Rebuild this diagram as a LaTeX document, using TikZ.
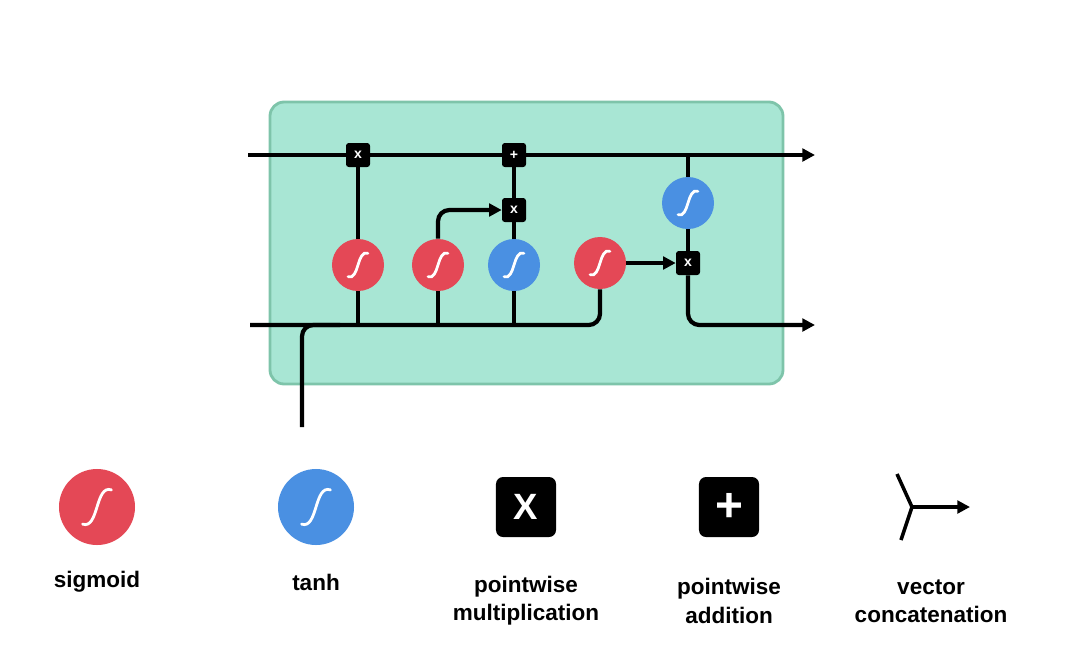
\documentclass[tikz,border=0pt]{standalone}
\usepackage{fontspec}
\setmainfont{Liberation Sans}
\usetikzlibrary{arrows.meta, positioning, calc}
\definecolor{sigred}{RGB}{228,72,86}
\definecolor{tanhblue}{RGB}{74,144,226}
\definecolor{cellfill}{RGB}{168,230,212}
\definecolor{celldraw}{RGB}{126,196,170}

\begin{document}
\begin{tikzpicture}[
		x=0.025cm, y=-0.025cm,
		flow/.style={line width=3pt, black},
		arr/.style={flow, -{Triangle[length=9pt, width=9pt]}},
		scurve/.pic={
			\draw[white, line width=2pt, line cap=round]
				(-0.38,0.45) .. controls (0.05,0.6) and (-0.05,-0.6) .. (0.38,-0.45);
		}
	]
	\tikzstyle{Gate} = [ %round gate
		circle,
		minimum size=1.3cm,
		inner sep=0pt
	]
	\tikzstyle{Op} = [
		rounded corners=2pt,
		fill=black,
		text=white,
		font=\bfseries\normalsize,
		minimum size=0.6cm,
		inner sep=0pt
	]
	\tikzstyle{Label} = [
		font=\fontsize{16}{20}\selectfont\bfseries,
		align=center
	]
	\useasboundingbox (0,0) rectangle (1080,646);
	
	% cell body
	\draw[celldraw, fill=cellfill, line width=2pt, rounded corners=10pt] (270,102) rectangle (783,384);
	
	\coordinate (cin) at (248,155);
	\coordinate (cout) at (815,155);
	\coordinate (hin) at (250,325);
	\coordinate (hout) at (815,325);
	\coordinate (xin) at (302,427);
	\coordinate (xj) at (340,325);
	
	\node (m1) [Op] at (358,155) {x};
	\node (p1) [Op] at (514,155) {+};
	\node (m2) [Op] at (514,210) {x};
	\node (m3) [Op] at (688,263) {x};
	\node (s1) [Gate, fill=sigred] at (358,265) {};
	\node (s2) [Gate, fill=sigred] at (438,265) {};
	\node (t1) [Gate, fill=tanhblue] at (514,265) {};
	\node (s3) [Gate, fill=sigred] at (600,263) {};
	\node (t2) [Gate, fill=tanhblue] at (688,203) {};
	\foreach \g in {s1,s2,t1,s3,t2}
		\pic[scale=26] at (\g) {scurve};
	
	\draw[arr] (cin) -- (m1) -- (p1) -- (cout);
	\draw[flow, rounded corners=8pt] (hin) -| (s3);
	\draw[flow, rounded corners=8pt] (xin) |- (xj);
	\draw[flow] (s1 |- hin) -- (s1);
	\draw[flow] (s2 |- hin) -- (s2);
	\draw[flow] (t1 |- hin) -- (t1);
	\draw[flow] (s1) -- (m1);
	\draw[arr, rounded corners=8pt] (s2) |- (m2);
	\draw[flow] (t1) -- (m2);
	\draw[flow] (m2) -- (p1);
	\draw[flow] (p1 -| t2) -- (t2);
	\draw[flow] (t2) -- (m3);
	\draw[arr] (s3) -- (m3);
	\draw[arr, rounded corners=8pt] (m3) |- (hout);
	
	% legend
	\node (ls) [Gate, fill=sigred, minimum size=1.9cm] at (97,507) {};
	\pic[scale=38] at (ls) {scurve};
	\node (lt) [Gate, fill=tanhblue, minimum size=1.9cm] at (316,507) {};
	\pic[scale=38] at (lt) {scurve};
	\node (lm) [Op, minimum size=1.5cm, rounded corners=5pt, font=\bfseries\fontsize{26}{26}\selectfont] at (526,507) {X};
	\node (lp) [Op, minimum size=1.5cm, rounded corners=5pt, font=\bfseries\fontsize{34}{34}\selectfont] at (729,507) {+};
	\coordinate (ca) at (897,474);
	\coordinate (cb) at (901,540);
	\coordinate (cc) at (912,507);
	\coordinate (cd) at (970,507);
	\draw[flow, line width=2.5pt] (ca) -- (cc) -- (cb);
	\draw[arr, line width=2.5pt] (cc) -- (cd);
	
	\node [Label] at (97,582) {sigmoid};
	\node [Label] at (316,582) {tanh};
	\node [Label] at (526,601) {pointwise\\multiplication};
	\node [Label] at (729,601) {pointwise\\addition};
	\node [Label] at (931,601) {vector\\concatenation};
\end{tikzpicture}
\end{document}
